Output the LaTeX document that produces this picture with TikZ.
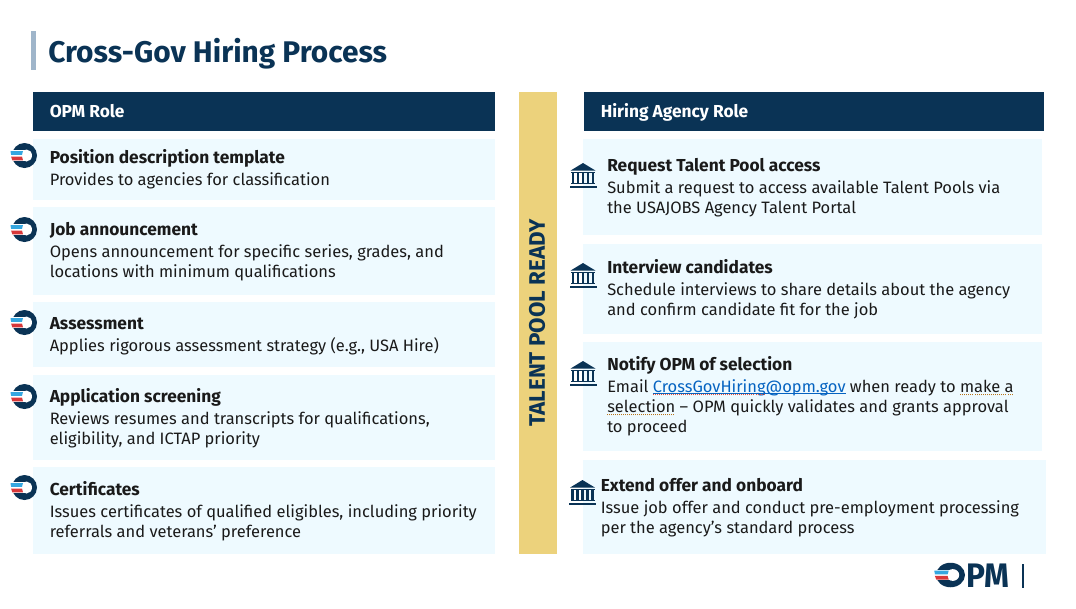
\documentclass[tikz,border=0pt]{standalone}
\usepackage{fontspec}
\setmainfont{Fira Sans}
\definecolor{navy}{HTML}{0A3355}
\definecolor{cardbg}{HTML}{EEFAFF}
\definecolor{bandc}{HTML}{ECD27C}
\definecolor{titlebar}{HTML}{9FB5CA}
\definecolor{ink}{HTML}{1A1A1A}
\definecolor{linkc}{HTML}{0563C1}
\definecolor{logoblue}{HTML}{35A7E0}
\definecolor{logored}{HTML}{D8383A}
\definecolor{dotbrown}{HTML}{B8741A}
\definecolor{dotred}{HTML}{E8503A}
\newcommand{\dotul}[2]{\setbox0\hbox{#2}\rlap{\copy0}\raisebox{-2.6pt}{\textcolor{#1}{\hbox to \wd0{\xleaders\hbox{\rule{0.75pt}{0.75pt}\hskip0.75pt}\hfill}}}}
\newcommand{\linkul}[1]{\setbox0\hbox{#1}\rlap{\copy0}\raisebox{-1.6pt}{\textcolor{linkc}{\rule{\wd0}{0.6pt}}}}
\tikzset{
  x=0.75pt,y=-0.75pt,
  bodytext/.style={anchor=base west,inner sep=0pt,align=left,text=ink,font=\fontsize{12.35pt}{15pt}\selectfont},
  headtext/.style={anchor=base west,inner sep=0pt,text=white,font=\fontsize{13pt}{15pt}\selectfont\bfseries},
  pics/opmlogo/.style={code={
    \fill[navy] (0,0) circle[radius=12.5];
    \fill[white] (2,0) ellipse[x radius=5.5,y radius=6];
    \fill[white] (-14,-5.5) rectangle (0,5.5);
    \fill[logoblue] (-14,-4.5) -- (-1.5,-4.5) -- (-2.5,-0.7) -- (-13.4,-0.7) -- cycle;
    \fill[logored] (-13.4,1) -- (-2.5,1) -- (-1.5,4.8) -- (-12.2,4.8) -- cycle;
  }},
  pics/bankicon/.style={code={
    \fill[navy] (0,0) -- (12.5,7.6) -- (-12.5,7.6) -- cycle;
    \fill[navy] (-12,8.6) rectangle (12,10);
    \foreach \i in {-10,-5,0,5,10}{\fill[navy] (\i-1.4,10) rectangle (\i+1.4,20);}
    \fill[navy] (-12,20) rectangle (12,21.4);
    \fill[navy] (-13.5,23) rectangle (13.5,24.6);
  }}
}
\newcommand{\cardtxt}[5]{\node[bodytext] (#1) at (#2,#3) {{\fontsize{13pt}{15pt}\selectfont\bfseries #4}\\[1.5pt]#5};}
\begin{document}
\begin{tikzpicture}
\useasboundingbox (0,0) rectangle (1076,608);
\fill[white] (0,0) rectangle (1076,608);
% title
\fill[titlebar] (31,31) rectangle (36,70);
\node[anchor=base west,inner sep=0pt,text=navy,font=\fontsize{22.4pt}{25pt}\selectfont\bfseries] (title) at (48,62) {Cross-Gov Hiring Process};
% headers
\fill[navy] (33,92) rectangle (495,131);
\fill[navy] (584,92) rectangle (1044,131);
\node[headtext] (opmhead) at (49.5,117) {OPM Role};
\node[headtext] (agencyhead) at (600.5,117) {Hiring Agency Role};
% band
\fill[bandc] (519,92) rectangle (557,554);
\node[rotate=90,text=navy,inner sep=0pt,font=\fontsize{16.8pt}{18pt}\selectfont\bfseries] (band) at (537,323) {TALENT POOL READY};
% left cards
\fill[cardbg] (33,139) rectangle (495,200);
\fill[cardbg] (33,207) rectangle (495,295);
\fill[cardbg] (33,302) rectangle (495,367);
\fill[cardbg] (33,375) rectangle (495,460);
\fill[cardbg] (33,467) rectangle (495,554);
% right cards
\fill[cardbg] (583,139) rectangle (1042,235);
\fill[cardbg] (583,244) rectangle (1042,334);
\fill[cardbg] (583,342) rectangle (1042,451);
\fill[cardbg] (583,460) rectangle (1046,554);
% left text
\cardtxt{l1}{49.5}{185}{Position description template}{Provides to agencies for classification}
\cardtxt{l2}{49.5}{277}{Job announcement}{Opens announcement for specific series, grades, and\\locations with minimum qualifications}
\cardtxt{l3}{49.5}{351}{Assessment}{Applies rigorous assessment strategy (e.g., USA Hire)}
\cardtxt{l4}{49.5}{444}{Application screening}{Reviews resumes and transcripts for qualifications,\\eligibility, and ICTAP priority}
\cardtxt{l5}{49.5}{537}{Certificates}{Issues certificates of qualified eligibles, including priority\\referrals and veterans’ preference}
% right text
\cardtxt{r1}{607}{213}{Request Talent Pool access}{Submit a request to access available Talent Pools via\\the USAJOBS Agency Talent Portal}
\cardtxt{r2}{607}{315}{Interview candidates}{Schedule interviews to share details about the agency\\and confirm candidate fit for the job}
\cardtxt{r3}{607}{432}{Notify OPM of selection}{Email \textcolor{linkc}{\linkul{\dotul{dotred}{CrossGovHiring}@opm.gov}} when ready to \dotul{dotbrown}{make a}\\\dotul{dotbrown}{selection} – OPM quickly validates and grants approval\\to proceed}
\cardtxt{r4}{600.5}{533}{Extend offer and onboard}{Issue job offer and conduct pre-employment processing\\per the agency’s standard process}
% left icons
\foreach \yy in {155.5,229.5,322.5,396.5,487.5}{\pic at (24.5,\yy) {opmlogo};}
% right icons
\foreach \yy/\xx in {163/583,263/583,361/583,480/582.5}{\pic at (\xx,\yy) {bankicon};}
% footer logo
\pic[xscale=1.16,yscale=0.98] at (950.5,575) {opmlogo};
\node[anchor=base west,inner sep=0pt,xscale=0.93,text=navy,font=\fontsize{25.5pt}{26pt}\selectfont\bfseries] (logopm) at (966,587) {PM};
\draw[navy,line width=0.8pt] (1023,564) -- (1023,588);
\end{tikzpicture}
\end{document}
